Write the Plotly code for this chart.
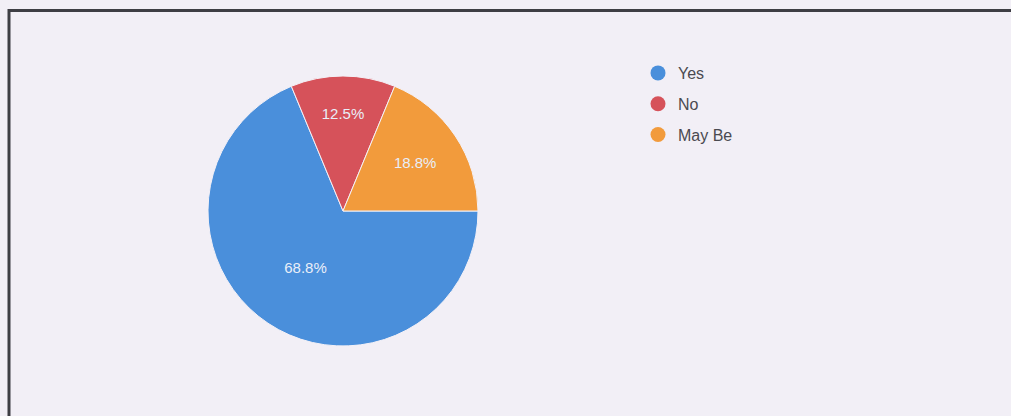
import plotly.graph_objects as go

labels = ["Yes", "No", "May Be"]
values = [11, 2, 3]
colors = ["#4a8fdb", "#d6525a", "#f29b3c"]

W, H = 1011, 416
cx, cy, r = 343, 211, 135
BG = "#f2eff6"

fig = go.Figure()
fig.add_trace(go.Pie(
    labels=labels, values=values, sort=False, direction="clockwise", rotation=90,
    marker=dict(colors=colors, line=dict(color="#f4f1f7", width=1)),
    texttemplate="%{percent:.1%}", textposition="inside",
    insidetextorientation="horizontal",
    textfont=dict(family="Liberation Sans, Arial, sans-serif", size=15, color="#e9eef8"),
    showlegend=False, hoverinfo="label+percent",
    domain=dict(x=[(cx - r) / W, (cx + r) / W], y=[(H - cy - r) / H, (H - cy + r) / H]),
))

for lab, col in zip(labels, colors):
    fig.add_trace(go.Scatter(
        x=[None], y=[None], mode="markers", name=lab, legendgroup=lab,
        marker=dict(color=col, size=15, symbol="circle"),
    ))

fig.update_layout(
    width=W, height=H, margin=dict(l=0, r=0, t=0, b=0),
    paper_bgcolor=BG, plot_bgcolor=BG,
    xaxis=dict(visible=False), yaxis=dict(visible=False),
    legend=dict(x=638 / W, y=1 - 56 / H, xanchor="left", yanchor="top",
                bgcolor="rgba(0,0,0,0)", tracegroupgap=7, itemwidth=30,
                font=dict(family="Liberation Sans, Arial, sans-serif", size=16, color="#4a4a50")),
    shapes=[
        dict(type="line", xref="paper", yref="paper", x0=8 / W, x1=1, y0=1 - 10.5 / H, y1=1 - 10.5 / H,
             line=dict(color="#3e3e44", width=3)),
        dict(type="line", xref="paper", yref="paper", x0=9 / W, x1=9 / W, y0=0, y1=1 - 9 / H,
             line=dict(color="#3e3e44", width=3)),
    ],
)

fig.write_html(
    "out.html",
    config={"displayModeBar": False},
    post_script="document.body.style.margin='0';document.body.style.background='" + BG + "';",
)
